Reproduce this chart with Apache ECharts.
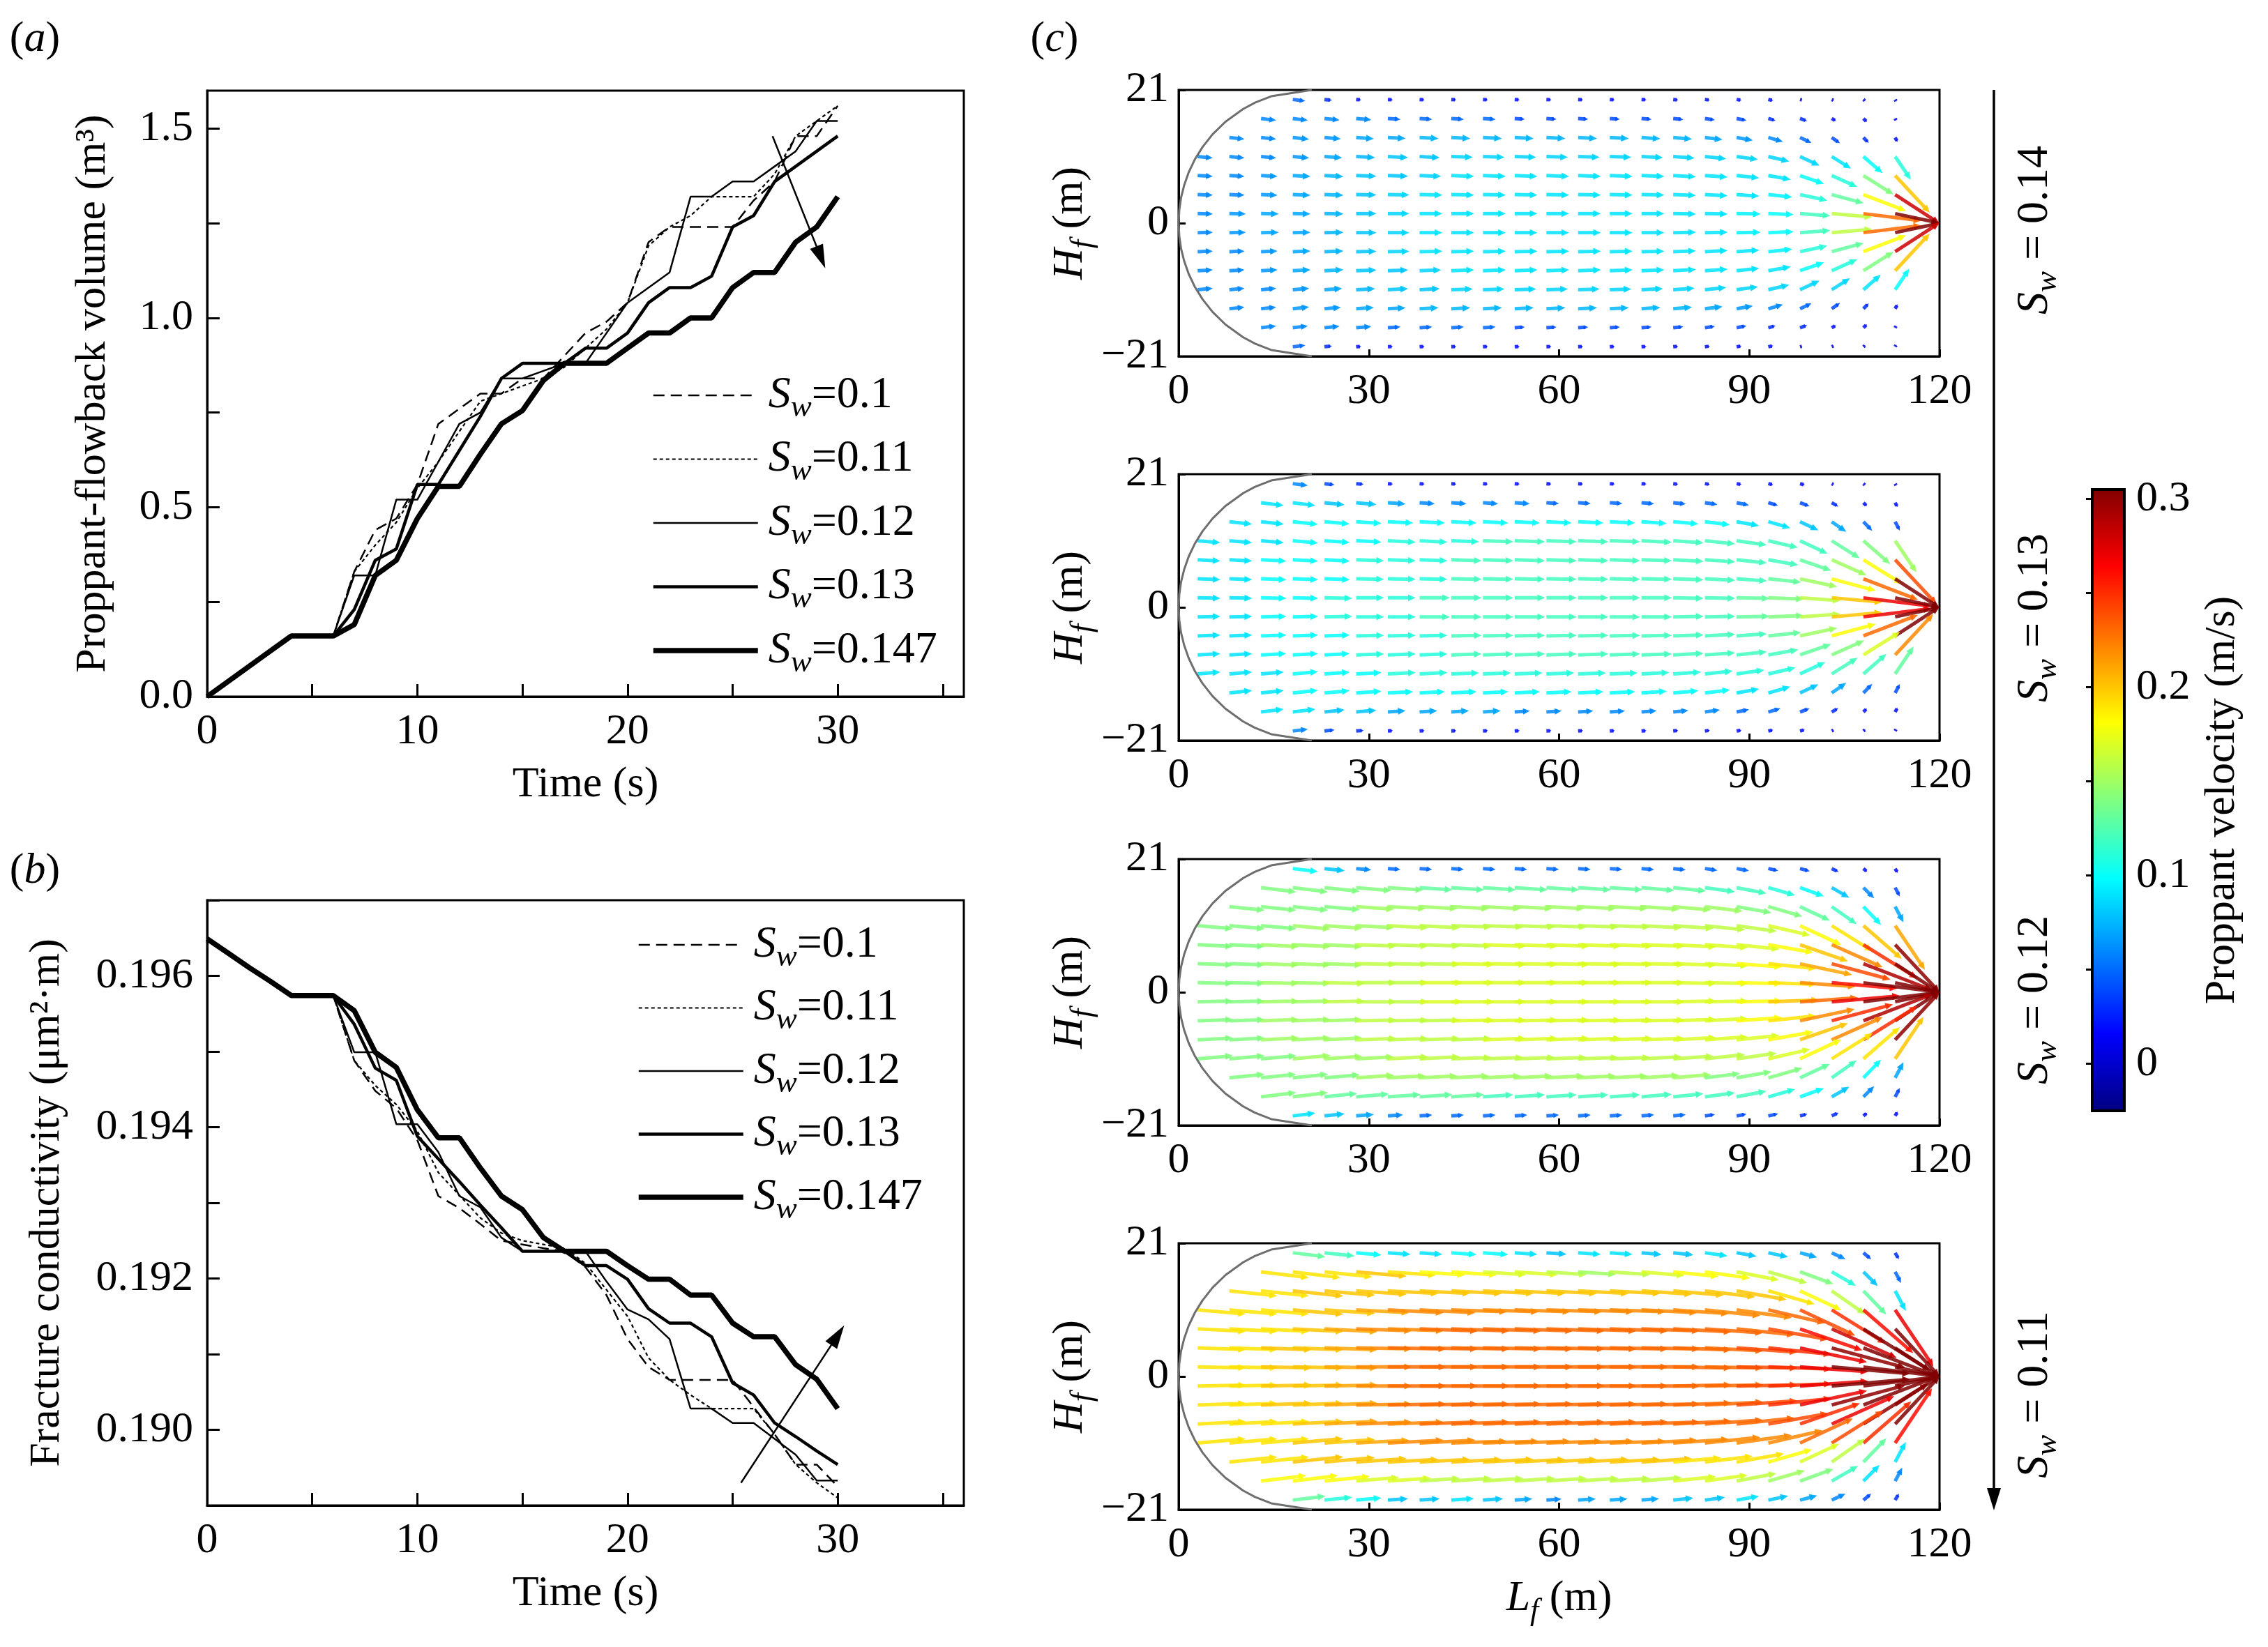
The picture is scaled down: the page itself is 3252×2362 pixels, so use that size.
<!DOCTYPE html>
<html>
<head>
<meta charset="utf-8">
<script src="https://cdn.jsdelivr.net/npm/echarts@6/dist/echarts.min.js"></script>
<style>
html, body { margin: 0; padding: 0; background: #fff; }
#main { width: 3252px; height: 2362px; }
</style>
</head>
<body>
<div id="main"></div>
<script>
// ---- data ----
var timeS = [0,1,2,3,4,5,6,7,8,9,10,11,12,13,14,15,16,17,18,19,20,21,22,23,24,25,26,27,28,29,30];
var swLegend = ['0.1', '0.11', '0.12', '0.13', '0.147'];

// (a) proppant-flowback volume, m3
var volSw010  = [0,0.04,0.08,0.12,0.16,0.16,0.16,0.33,0.44,0.47,0.56,0.72,0.76,0.80,0.80,0.84,0.84,0.90,0.96,0.99,1.04,1.20,1.24,1.24,1.24,1.24,1.31,1.36,1.48,1.48,1.56];
var volSw011  = [0,0.04,0.08,0.12,0.16,0.16,0.16,0.33,0.40,0.46,0.55,0.62,0.70,0.78,0.80,0.82,0.84,0.87,0.92,0.97,1.04,1.19,1.24,1.27,1.32,1.32,1.32,1.38,1.48,1.52,1.56];
var volSw012  = [0,0.04,0.08,0.12,0.16,0.16,0.16,0.32,0.32,0.52,0.52,0.62,0.72,0.75,0.84,0.84,0.86,0.88,0.88,0.96,1.04,1.08,1.12,1.32,1.32,1.36,1.36,1.40,1.44,1.52,1.52];
var volSw013  = [0,0.04,0.08,0.12,0.16,0.16,0.16,0.23,0.36,0.39,0.56,0.56,0.65,0.74,0.84,0.88,0.88,0.88,0.92,0.92,0.96,1.04,1.08,1.08,1.11,1.24,1.27,1.36,1.40,1.44,1.48];
var volSw0147 = [0,0.04,0.08,0.12,0.16,0.16,0.16,0.19,0.32,0.36,0.47,0.555,0.555,0.64,0.72,0.755,0.835,0.88,0.88,0.88,0.92,0.96,0.96,1.00,1.00,1.08,1.12,1.12,1.20,1.24,1.32];

// (b) fracture conductivity, um2*m
var condSw010  = [0.19649,0.19630,0.19611,0.19593,0.19574,0.19574,0.19574,0.19488,0.19448,0.19425,0.19383,0.19309,0.19293,0.19272,0.19250,0.19245,0.19240,0.19236,0.19215,0.19178,0.19120,0.19083,0.19066,0.19066,0.19066,0.19066,0.19030,0.18994,0.18954,0.18954,0.18925];
var condSw011  = [0.19649,0.19630,0.19611,0.19593,0.19574,0.19574,0.19574,0.19488,0.19455,0.19430,0.19395,0.19340,0.19310,0.19280,0.19260,0.19250,0.19245,0.19240,0.19220,0.19185,0.19150,0.19095,0.19066,0.19046,0.19028,0.19028,0.19028,0.18994,0.18954,0.18930,0.18910];
var condSw012  = [0.19649,0.19630,0.19611,0.19593,0.19574,0.19574,0.19574,0.19499,0.19499,0.19404,0.19404,0.19367,0.19309,0.19294,0.19254,0.19236,0.19236,0.19236,0.19236,0.19196,0.19159,0.19146,0.19120,0.19028,0.19028,0.19009,0.19009,0.18988,0.18967,0.18933,0.18933];
var condSw013  = [0.19649,0.19630,0.19611,0.19593,0.19574,0.19574,0.19574,0.19536,0.19478,0.19462,0.19388,0.19358,0.19328,0.19297,0.19267,0.19236,0.19236,0.19236,0.19217,0.19217,0.19199,0.19160,0.19141,0.19141,0.19123,0.19062,0.19046,0.19009,0.18991,0.18972,0.18954];
var condSw0147 = [0.19649,0.19630,0.19611,0.19593,0.19574,0.19574,0.19574,0.19554,0.19499,0.19479,0.19423,0.19386,0.19386,0.19346,0.19309,0.19291,0.19254,0.19236,0.19236,0.19236,0.19217,0.19199,0.19199,0.19178,0.19178,0.19141,0.19123,0.19123,0.19086,0.19067,0.19028];

// trend arrows (data coords)
var trendArrowA = [[26.9, 1.48], [29.2, 1.16]];
var trendArrowB = [[25.4, 0.18930], [30.0, 0.19125]];

// ticks and labels
var timeTicks = [0,5,10,15,20,25,30,35];
var timeLabels = [0,10,20,30];
var volTicks = [0,0.25,0.5,0.75,1,1.25,1.5];
var volLabels = [0,0.5,1,1.5];
var condTicks = [0.189,0.19,0.191,0.192,0.193,0.194,0.195,0.196,0.197];
var condLabels = [0.19,0.192,0.194,0.196];
var lenLabels = [0,30,60,90,120];
var hgtLabels = [-21,0,21];
var velTicks = [0,0.05,0.1,0.15,0.2,0.25,0.3];
var velLabels = [0,0.1,0.2,0.3];
var velMin = -0.025, velMax = 0.305;

// (c) proppant velocity field
var panelSw = ['0.14', '0.13', '0.12', '0.11'];
var edgeX = [21,14.6,12.06,10.18,7.4,5.35,3.77,2.53,1.58,0.88,0.38,0.1,0,0.1,0.38,0.88,1.58,2.53,3.77,5.35,7.4,10.18,12.06,14.6,21];
var edgeY = [21,20,19,18,16,14,12,10,8,6,4,2,0,-2,-4,-6,-8,-10,-12,-14,-16,-18,-19,-20,-21];
var gridX = [3,8,13,18,23,28,33,38,43,48,53,58,63,68,73,78,83,88,93,98,103,108,113];
var gridY = [19.5,16.5,13.5,10.5,7.5,4.5,1.5,-1.5,-4.5,-7.5,-10.5,-13.5,-16.5,-19.5];
// flow direction in degrees (same for the four cases), rows top to bottom
var flowAngle = [
  [null,null,null,-7,-6,-5,-4,-4,-4,-4,-4,-4,-4,-4,-5,-6,-8,-10,-12,-15,-25,-40,-60],
  [null,null,-7,-7,-6,-5,-4,-4,-4,-4,-4,-4,-4,-4,-5,-6,-8,-11,-16,-20,-30,-45,-62],
  [null,-6,-6,-6,-5,-4,-3,-3,-3,-3,-3,-3,-3,-3,-4,-5,-7,-10,-16,-25,-35,-46,-62],
  [-5,-5,-5,-5,-4,-3,-3,-3,-2,-2,-2,-2,-2,-2,-3,-4,-6,-8,-13,-25,-32,-41,-56],
  [-3,-3,-3,-3,-3,-2,-2,-2,-2,-2,-2,-2,-2,-2,-2,-3,-4,-6,-10,-19,-24,-32,-47],
  [-2,-2,-2,-2,-2,-1,-1,-1,-1,-1,-1,-1,-1,-1,-1,-2,-3,-4,-6,-12,-15,-21,-33],
  [-1,-1,-1,-1,-1,0,0,0,0,0,0,0,0,0,0,-1,-1,-1,-2,-4,-5,-7,-12],
  [1,1,1,1,1,0,0,0,0,0,0,0,0,0,0,1,1,1,2,4,5,7,12],
  [2,2,2,2,2,1,1,1,1,1,1,1,1,1,1,2,3,4,6,12,15,21,33],
  [3,3,3,3,3,2,2,2,2,2,2,2,2,2,2,3,4,6,10,19,24,32,47],
  [5,5,5,5,4,3,3,3,2,2,2,2,2,2,3,4,6,8,13,25,32,41,56],
  [null,6,6,6,5,4,3,3,3,3,3,3,3,3,4,5,7,10,16,25,35,46,62],
  [null,null,7,7,6,5,4,4,4,4,4,4,4,4,5,6,8,11,16,20,30,45,62],
  [null,null,null,7,6,5,4,4,4,4,4,4,4,4,5,6,8,10,12,15,25,40,60]
];
// speed in m/s, rows top to bottom
var speedSw014 = [
  [null,null,null,0.05,0.03,0.02,0.02,0.02,0.02,0.02,0.02,0.02,0.02,0.02,0.02,0.02,0.02,0.02,0.02,0.01,0.01,0.01,0.01],
  [null,null,0.06,0.06,0.06,0.06,0.05,0.05,0.05,0.05,0.04,0.04,0.04,0.04,0.04,0.04,0.04,0.04,0.03,0.03,0.02,0.02,0.01],
  [null,0.06,0.06,0.065,0.065,0.07,0.07,0.075,0.075,0.075,0.075,0.075,0.075,0.075,0.075,0.075,0.07,0.065,0.06,0.05,0.04,0.03,0.02],
  [0.06,0.06,0.06,0.065,0.07,0.075,0.08,0.08,0.085,0.085,0.085,0.085,0.085,0.085,0.085,0.085,0.085,0.085,0.085,0.085,0.09,0.10,0.11],
  [0.06,0.06,0.065,0.07,0.075,0.08,0.08,0.085,0.09,0.09,0.09,0.09,0.09,0.09,0.09,0.09,0.09,0.09,0.09,0.10,0.11,0.14,0.20],
  [0.06,0.06,0.065,0.07,0.075,0.08,0.085,0.09,0.09,0.09,0.09,0.09,0.09,0.09,0.09,0.09,0.09,0.09,0.095,0.11,0.13,0.18,0.28],
  [0.06,0.065,0.07,0.07,0.075,0.08,0.085,0.09,0.09,0.09,0.09,0.09,0.09,0.09,0.09,0.09,0.09,0.095,0.10,0.12,0.16,0.23,0.40],
  [0.06,0.065,0.07,0.07,0.075,0.08,0.085,0.09,0.09,0.09,0.09,0.09,0.09,0.09,0.09,0.09,0.09,0.095,0.10,0.12,0.16,0.23,0.40],
  [0.06,0.06,0.065,0.07,0.075,0.08,0.085,0.09,0.09,0.09,0.09,0.09,0.09,0.09,0.09,0.09,0.09,0.09,0.095,0.11,0.13,0.18,0.28],
  [0.06,0.06,0.065,0.07,0.075,0.08,0.08,0.085,0.09,0.09,0.09,0.09,0.09,0.09,0.09,0.09,0.09,0.09,0.09,0.10,0.11,0.14,0.20],
  [0.06,0.06,0.06,0.065,0.07,0.075,0.08,0.08,0.085,0.085,0.085,0.085,0.085,0.085,0.085,0.085,0.085,0.085,0.085,0.085,0.085,0.09,0.10],
  [null,0.06,0.06,0.065,0.065,0.07,0.07,0.075,0.075,0.075,0.075,0.075,0.075,0.075,0.075,0.075,0.07,0.065,0.06,0.05,0.04,0.03,0.02],
  [null,null,0.06,0.06,0.06,0.06,0.05,0.05,0.05,0.05,0.04,0.04,0.04,0.04,0.04,0.04,0.04,0.04,0.03,0.03,0.02,0.02,0.01],
  [null,null,null,0.05,0.03,0.02,0.02,0.02,0.02,0.02,0.02,0.02,0.02,0.02,0.02,0.02,0.02,0.02,0.02,0.01,0.01,0.01,0.01]
];
var speedSw013 = [
  [null,null,null,0.06,0.04,0.03,0.02,0.02,0.02,0.02,0.02,0.02,0.02,0.02,0.02,0.02,0.02,0.02,0.02,0.02,0.01,0.01,0.01],
  [null,null,0.09,0.09,0.08,0.08,0.07,0.06,0.06,0.06,0.06,0.05,0.05,0.05,0.05,0.05,0.05,0.05,0.04,0.04,0.03,0.02,0.02],
  [null,0.09,0.09,0.10,0.10,0.10,0.10,0.10,0.10,0.10,0.10,0.10,0.10,0.10,0.10,0.10,0.10,0.09,0.09,0.08,0.07,0.05,0.04],
  [0.09,0.09,0.09,0.10,0.10,0.10,0.11,0.11,0.11,0.12,0.12,0.12,0.12,0.12,0.12,0.12,0.12,0.12,0.12,0.12,0.13,0.14,0.15],
  [0.09,0.09,0.10,0.10,0.10,0.11,0.11,0.11,0.12,0.12,0.12,0.12,0.12,0.12,0.12,0.12,0.12,0.12,0.12,0.13,0.15,0.18,0.24],
  [0.09,0.09,0.10,0.10,0.10,0.11,0.11,0.11,0.12,0.12,0.12,0.12,0.12,0.12,0.12,0.12,0.12,0.12,0.13,0.15,0.18,0.23,0.32],
  [0.09,0.09,0.10,0.10,0.11,0.11,0.11,0.12,0.12,0.12,0.12,0.12,0.12,0.12,0.12,0.12,0.12,0.13,0.14,0.16,0.20,0.27,0.45],
  [0.09,0.09,0.10,0.10,0.11,0.11,0.11,0.12,0.12,0.12,0.12,0.12,0.12,0.12,0.12,0.12,0.12,0.13,0.14,0.16,0.20,0.27,0.45],
  [0.09,0.09,0.10,0.10,0.10,0.11,0.11,0.11,0.12,0.12,0.12,0.12,0.12,0.12,0.12,0.12,0.12,0.12,0.13,0.15,0.18,0.23,0.32],
  [0.09,0.09,0.10,0.10,0.10,0.11,0.11,0.11,0.12,0.12,0.12,0.12,0.12,0.12,0.12,0.12,0.12,0.12,0.12,0.13,0.14,0.17,0.22],
  [0.09,0.09,0.09,0.10,0.10,0.10,0.11,0.11,0.11,0.11,0.11,0.11,0.11,0.11,0.11,0.11,0.11,0.11,0.11,0.11,0.12,0.12,0.13],
  [null,0.09,0.09,0.10,0.10,0.10,0.10,0.10,0.10,0.10,0.10,0.10,0.10,0.10,0.10,0.10,0.10,0.09,0.09,0.08,0.07,0.05,0.04],
  [null,null,0.09,0.09,0.08,0.08,0.07,0.07,0.07,0.07,0.06,0.06,0.06,0.06,0.06,0.06,0.06,0.05,0.05,0.04,0.03,0.02,0.02],
  [null,null,null,0.06,0.04,0.03,0.02,0.02,0.02,0.02,0.02,0.02,0.02,0.02,0.02,0.02,0.02,0.02,0.02,0.02,0.01,0.01,0.01]
];
var speedSw012 = [
  [null,null,null,0.10,0.08,0.06,0.05,0.05,0.05,0.05,0.05,0.05,0.05,0.05,0.05,0.05,0.05,0.05,0.04,0.04,0.03,0.02,0.02],
  [null,null,0.14,0.14,0.14,0.14,0.14,0.13,0.13,0.13,0.13,0.13,0.13,0.13,0.13,0.13,0.12,0.12,0.11,0.10,0.08,0.06,0.04],
  [null,0.14,0.14,0.14,0.14,0.15,0.15,0.15,0.15,0.15,0.15,0.15,0.15,0.15,0.15,0.15,0.15,0.14,0.14,0.13,0.12,0.10,0.07],
  [0.14,0.14,0.14,0.15,0.15,0.15,0.16,0.16,0.16,0.16,0.16,0.16,0.16,0.16,0.16,0.16,0.16,0.16,0.17,0.18,0.19,0.20,0.21],
  [0.14,0.14,0.15,0.15,0.15,0.16,0.16,0.16,0.16,0.17,0.17,0.17,0.17,0.17,0.17,0.17,0.17,0.17,0.18,0.20,0.22,0.25,0.30],
  [0.14,0.14,0.15,0.15,0.15,0.16,0.16,0.16,0.17,0.17,0.17,0.17,0.17,0.17,0.17,0.17,0.17,0.18,0.19,0.21,0.24,0.29,0.38],
  [0.14,0.14,0.15,0.15,0.16,0.16,0.16,0.17,0.17,0.17,0.17,0.17,0.17,0.17,0.17,0.17,0.17,0.18,0.19,0.22,0.26,0.33,0.48],
  [0.14,0.14,0.15,0.15,0.16,0.16,0.16,0.17,0.17,0.17,0.17,0.17,0.17,0.17,0.17,0.17,0.17,0.18,0.20,0.23,0.27,0.33,0.48],
  [0.14,0.14,0.15,0.15,0.15,0.16,0.16,0.16,0.17,0.17,0.17,0.17,0.17,0.17,0.17,0.17,0.17,0.18,0.19,0.22,0.25,0.29,0.38],
  [0.14,0.14,0.15,0.15,0.15,0.16,0.16,0.16,0.16,0.17,0.17,0.17,0.17,0.17,0.17,0.17,0.17,0.17,0.18,0.20,0.22,0.25,0.30],
  [0.14,0.14,0.14,0.15,0.15,0.15,0.16,0.16,0.16,0.16,0.16,0.16,0.16,0.16,0.16,0.16,0.16,0.16,0.17,0.18,0.19,0.19,0.20],
  [null,0.14,0.14,0.14,0.14,0.15,0.15,0.15,0.15,0.15,0.15,0.15,0.15,0.15,0.15,0.15,0.14,0.14,0.14,0.13,0.12,0.10,0.07],
  [null,null,0.14,0.14,0.13,0.13,0.13,0.13,0.13,0.12,0.12,0.12,0.12,0.12,0.12,0.12,0.12,0.12,0.11,0.10,0.08,0.06,0.04],
  [null,null,null,0.09,0.08,0.07,0.06,0.05,0.05,0.05,0.05,0.05,0.05,0.05,0.05,0.05,0.04,0.04,0.04,0.03,0.03,0.02,0.02]
];
var speedSw011 = [
  [null,null,null,0.13,0.12,0.10,0.09,0.09,0.10,0.10,0.09,0.08,0.09,0.09,0.08,0.08,0.09,0.08,0.08,0.07,0.06,0.04,0.03],
  [null,null,0.19,0.19,0.19,0.20,0.19,0.18,0.18,0.17,0.17,0.16,0.15,0.16,0.17,0.18,0.18,0.17,0.16,0.14,0.11,0.08,0.05],
  [null,0.19,0.19,0.20,0.20,0.20,0.20,0.20,0.20,0.20,0.20,0.20,0.20,0.20,0.20,0.20,0.20,0.20,0.19,0.18,0.16,0.13,0.09],
  [0.19,0.19,0.19,0.20,0.20,0.21,0.22,0.22,0.22,0.22,0.22,0.22,0.22,0.22,0.22,0.22,0.22,0.22,0.23,0.24,0.25,0.26,0.27],
  [0.19,0.19,0.19,0.20,0.21,0.22,0.22,0.23,0.23,0.23,0.23,0.23,0.23,0.23,0.23,0.23,0.23,0.23,0.24,0.26,0.28,0.31,0.35],
  [0.19,0.19,0.20,0.20,0.21,0.22,0.23,0.23,0.23,0.23,0.23,0.23,0.23,0.23,0.23,0.23,0.23,0.24,0.25,0.27,0.30,0.35,0.45],
  [0.19,0.19,0.20,0.20,0.21,0.22,0.23,0.23,0.23,0.23,0.23,0.23,0.23,0.23,0.23,0.23,0.23,0.24,0.25,0.27,0.31,0.38,0.55],
  [0.19,0.19,0.20,0.20,0.21,0.22,0.23,0.23,0.23,0.23,0.23,0.23,0.23,0.23,0.23,0.23,0.23,0.24,0.25,0.27,0.31,0.38,0.55],
  [0.19,0.19,0.20,0.20,0.21,0.22,0.23,0.23,0.23,0.23,0.23,0.23,0.23,0.23,0.23,0.23,0.23,0.24,0.25,0.27,0.30,0.35,0.45],
  [0.19,0.19,0.19,0.20,0.21,0.22,0.22,0.23,0.23,0.23,0.23,0.23,0.23,0.23,0.23,0.23,0.23,0.23,0.24,0.25,0.27,0.30,0.34],
  [0.19,0.19,0.19,0.20,0.20,0.21,0.22,0.22,0.22,0.22,0.22,0.22,0.22,0.22,0.22,0.22,0.22,0.22,0.22,0.23,0.24,0.25,0.26],
  [null,0.19,0.19,0.20,0.20,0.20,0.20,0.20,0.20,0.20,0.20,0.20,0.20,0.20,0.20,0.19,0.19,0.19,0.18,0.17,0.16,0.13,0.09],
  [null,null,0.18,0.18,0.18,0.17,0.17,0.16,0.16,0.16,0.16,0.16,0.16,0.16,0.16,0.17,0.17,0.16,0.15,0.14,0.12,0.09,0.06],
  [null,null,null,0.13,0.11,0.10,0.08,0.08,0.09,0.08,0.07,0.06,0.07,0.07,0.07,0.08,0.08,0.09,0.08,0.07,0.06,0.04,0.03]
];
var speedTables = [speedSw014, speedSw013, speedSw012, speedSw011];

// jet colour map
var jetColors = ['#000080','#0000ff','#0080ff','#00ffff','#80ff80','#ffff00','#ff8000','#ff0000','#800000'];

// ---- drawing ----
var serif = 'Liberation Serif';
var arrowScale = 40;   // metres of arrow per m/s
var fieldEnd = 120;

var chart = echarts.init(document.getElementById('main'));

var richSw = {
  s: { fontFamily: serif, fontStyle: 'italic', fontSize: 64, color: '#000' },
  w: { fontFamily: serif, fontStyle: 'italic', fontSize: 45, color: '#000', padding: [36, 0, 0, 0] },
  v: { fontFamily: serif, fontSize: 64, color: '#000' }
};
var richLegend = {
  s: { fontFamily: serif, fontStyle: 'italic', fontSize: 64, color: '#000', padding: [0, 0, 0, 10] },
  w: { fontFamily: serif, fontStyle: 'italic', fontSize: 45, color: '#000', padding: [36, 0, 0, 0] },
  v: { fontFamily: serif, fontSize: 64, color: '#000' }
};
var richH = {
  h: { fontFamily: serif, fontStyle: 'italic', fontSize: 62, color: '#000' },
  f: { fontFamily: serif, fontStyle: 'italic', fontSize: 44, color: '#000', padding: [36, 0, 0, 0] },
  v: { fontFamily: serif, fontSize: 62, color: '#000' }
};

function pairs(xs, ys) {
  var out = [];
  for (var i = 0; i < xs.length; i++) out.push([xs[i], ys[i]]);
  return out;
}

function frameGrid(l, t, w, h) {
  return { left: l, top: t, width: w, height: h, show: true, borderColor: '#000', borderWidth: 3, backgroundColor: 'transparent' };
}

function timeAxis(gi, gap) {
  return {
    type: 'value', gridIndex: gi, min: 0, max: 36,
    name: 'Time (s)', nameLocation: 'middle', nameGap: gap,
    nameTextStyle: { fontFamily: serif, fontSize: 62, color: '#000' },
    axisLine: { onZero: false, lineStyle: { color: '#000', width: 3 } },
    axisTick: { inside: true, length: 18, customValues: timeTicks, lineStyle: { color: '#000', width: 3 } },
    axisLabel: { customValues: timeLabels, margin: 20, fontFamily: serif, fontSize: 62, color: '#000' },
    splitLine: { show: false }
  };
}

function lenAxis(gi, withName) {
  return {
    type: 'value', gridIndex: gi, min: 0, max: 120,
    name: withName ? '{h|L}{f|f}{v| (m)}' : '', nameLocation: 'middle', nameGap: 88,
    nameTextStyle: { rich: richH },
    axisLine: { onZero: false, lineStyle: { color: '#000', width: 3 } },
    axisTick: { inside: true, length: 10, customValues: lenLabels, lineStyle: { color: '#000', width: 3 } },
    axisLabel: { customValues: lenLabels, margin: 20, fontFamily: serif, fontSize: 62, color: '#000' },
    splitLine: { show: false }
  };
}

function hgtAxis(gi) {
  return {
    type: 'value', gridIndex: gi, min: -21, max: 21,
    name: '{h|H}{f|f}{v| (m)}', nameLocation: 'middle', nameGap: 100, nameRotate: 90,
    nameTextStyle: { rich: richH },
    axisLine: { onZero: false, lineStyle: { color: '#000', width: 3 } },
    axisTick: { inside: true, length: 10, customValues: hgtLabels, lineStyle: { color: '#000', width: 3 } },
    axisLabel: {
      customValues: hgtLabels, margin: 14, fontFamily: serif, fontSize: 62, color: '#000',
      formatter: function (v) { return v < 0 ? '\u2212' + Math.abs(v) : String(v); }
    },
    splitLine: { show: false }
  };
}

var lineStyles = [
  { color: '#000', width: 2.5, type: [16, 9] },
  { color: '#000', width: 2.2, type: [5, 4] },
  { color: '#000', width: 2.5, type: 'solid' },
  { color: '#000', width: 4.5, type: 'solid' },
  { color: '#000', width: 7.5, type: 'solid' }
];
var volSeries = [volSw010, volSw011, volSw012, volSw013, volSw0147];
var condSeries = [condSw010, condSw011, condSw012, condSw013, condSw0147];

var series = [];
for (var i = 0; i < 5; i++) {
  var s = {
    type: 'line', name: 'a|' + swLegend[i], xAxisIndex: 0, yAxisIndex: 0,
    data: pairs(timeS, volSeries[i]), showSymbol: false, symbol: 'none',
    lineStyle: lineStyles[i], itemStyle: { color: '#000' }, z: 3 + i
  };
  if (i === 0) {
    s.markLine = {
      silent: true, symbol: ['none', 'triangle'], symbolSize: [20, 34],
      lineStyle: { color: '#000', width: 2.5, type: 'solid' }, label: { show: false },
      data: [[{ coord: trendArrowA[0] }, { coord: trendArrowA[1] }]]
    };
  }
  series.push(s);
}
for (var i = 0; i < 5; i++) {
  var s = {
    type: 'line', name: 'b|' + swLegend[i], xAxisIndex: 1, yAxisIndex: 1,
    data: pairs(timeS, condSeries[i]), showSymbol: false, symbol: 'none',
    lineStyle: lineStyles[i], itemStyle: { color: '#000' }, z: 3 + i
  };
  if (i === 0) {
    s.markLine = {
      silent: true, symbol: ['none', 'triangle'], symbolSize: [20, 34],
      lineStyle: { color: '#000', width: 2.5, type: 'solid' }, label: { show: false },
      data: [[{ coord: trendArrowB[0] }, { coord: trendArrowB[1] }]]
    };
  }
  series.push(s);
}

// fracture tip boundary
for (var p = 0; p < 4; p++) {
  series.push({
    type: 'line', xAxisIndex: 2 + p, yAxisIndex: 2 + p, data: pairs(edgeX, edgeY),
    showSymbol: false, symbol: 'none', silent: true,
    lineStyle: { color: '#6e6e6e', width: 3 }, z: 4
  });
}

function drawArrow(params, api) {
  var x = api.value(0), y = api.value(1), sp = api.value(2), ang = api.value(3) * Math.PI / 180;
  var len = sp * arrowScale;
  var dx = len * Math.cos(ang), dy = len * Math.sin(ang);
  if (x + dx > fieldEnd) { var k = (fieldEnd - x) / dx; dx *= k; dy *= k; }
  var p0 = api.coord([x, y]), p1 = api.coord([x + dx, y + dy]);
  var vx = p1[0] - p0[0], vy = p1[1] - p0[1];
  var L = Math.sqrt(vx * vx + vy * vy) || 1;
  var ux = vx / L, uy = vy / L;
  var h = Math.min(11, L * 0.45), w = h * 0.45;
  var c = api.visual('color');
  return {
    type: 'group',
    children: [
      { type: 'line', shape: { x1: p0[0], y1: p0[1], x2: p1[0] - ux * h * 0.6, y2: p1[1] - uy * h * 0.6 },
        style: { stroke: c, lineWidth: 5, opacity: 0.85 } },
      { type: 'polygon', shape: { points: [[p1[0], p1[1]], [p1[0] - ux * h - uy * w, p1[1] - uy * h + ux * w], [p1[0] - ux * h + uy * w, p1[1] - uy * h - ux * w]] },
        style: { fill: c, opacity: 0.9 } }
    ]
  };
}

var arrowSeriesIdx = [];
for (var p = 0; p < 4; p++) {
  var tbl = speedTables[p], items = [];
  for (var r = 0; r < gridY.length; r++) {
    for (var c = 0; c < gridX.length; c++) {
      var sp = tbl[r][c];
      if (sp === null || flowAngle[r][c] === null) continue;
      items.push([gridX[c], gridY[r], sp, flowAngle[r][c], Math.min(sp, velMax)]);
    }
  }
  arrowSeriesIdx.push(series.length);
  series.push({
    type: 'custom', xAxisIndex: 2 + p, yAxisIndex: 2 + p, data: items,
    renderItem: drawArrow, clip: true, silent: true, z: 3,
    encode: { x: 0, y: 1 }
  });
}

// colour bar
series.push({
  type: 'custom', xAxisIndex: 6, yAxisIndex: 6, data: [[0, velMin, velMax]], silent: true, z: 5,
  renderItem: function (params, api) {
    var a = api.coord([0, api.value(1)]), b = api.coord([1, api.value(2)]);
    var stops = jetColors.map(function (col, k) { return { offset: k / (jetColors.length - 1), color: col }; });
    return {
      type: 'rect',
      shape: { x: a[0], y: b[1], width: b[0] - a[0], height: a[1] - b[1] },
      style: { fill: new echarts.graphic.LinearGradient(0, 1, 0, 0, stops), stroke: '#000', lineWidth: 4 }
    };
  }
});

function legendFmt(name) { return '{s|S}{w|w}{v|=' + name.split('|')[1] + '}'; }
function legendData(prefix) {
  return swLegend.map(function (v, k) {
    return { name: prefix + '|' + v, lineStyle: { color: '#000', width: lineStyles[k].width, type: lineStyles[k].type } };
  });
}

var option = {
  animation: false,
  backgroundColor: '#fff',
  grid: [
    frameGrid(297, 130, 1085, 869),
    frameGrid(297, 1291, 1085, 868),
    frameGrid(1690, 129, 1091, 382),
    frameGrid(1690, 680, 1091, 382),
    frameGrid(1690, 1232, 1091, 382),
    frameGrid(1690, 1783, 1091, 382),
    { left: 3000, top: 702, width: 46, height: 891, show: false }
  ],
  xAxis: [
    timeAxis(0, 96),
    timeAxis(1, 96),
    lenAxis(2, false), lenAxis(3, false), lenAxis(4, false), lenAxis(5, true),
    { type: 'value', gridIndex: 6, min: 0, max: 1, show: false }
  ],
  yAxis: [
    {
      type: 'value', gridIndex: 0, min: 0, max: 1.6,
      name: 'Proppant-flowback volume (m\u00b3)', nameLocation: 'middle', nameGap: 132, nameRotate: 90,
      nameTextStyle: { fontFamily: serif, fontSize: 62, color: '#000' },
      axisLine: { onZero: false, lineStyle: { color: '#000', width: 3 } },
      axisTick: { inside: true, length: 18, customValues: volTicks, lineStyle: { color: '#000', width: 3 } },
      axisLabel: { customValues: volLabels, margin: 20, fontFamily: serif, fontSize: 62, color: '#000',
        formatter: function (v) { return v.toFixed(1); } },
      splitLine: { show: false }
    },
    {
      type: 'value', gridIndex: 1, min: 0.189, max: 0.197,
      name: 'Fracture conductivity (\u03bcm\u00b2\u00b7m)', nameLocation: 'middle', nameGap: 198, nameRotate: 90,
      nameTextStyle: { fontFamily: serif, fontSize: 62, color: '#000' },
      axisLine: { onZero: false, lineStyle: { color: '#000', width: 3 } },
      axisTick: { inside: true, length: 18, customValues: condTicks, lineStyle: { color: '#000', width: 3 } },
      axisLabel: { customValues: condLabels, margin: 20, fontFamily: serif, fontSize: 62, color: '#000',
        formatter: function (v) { return v.toFixed(3); } },
      splitLine: { show: false }
    },
    hgtAxis(2), hgtAxis(3), hgtAxis(4), hgtAxis(5),
    {
      type: 'value', gridIndex: 6, min: velMin, max: velMax, position: 'right',
      name: 'Proppant velocity (m/s)', nameLocation: 'middle', nameGap: 110, nameRotate: 90,
      nameTextStyle: { fontFamily: serif, fontSize: 62, color: '#000' },
      axisLine: { show: false },
      axisTick: { inside: true, length: 9, customValues: velTicks, lineStyle: { color: '#000', width: 3 } },
      axisLabel: { customValues: velLabels, margin: 17, fontFamily: serif, fontSize: 62, color: '#000',
        formatter: function (v) { return v === 0 ? '0' : v.toFixed(1); } },
      splitLine: { show: false }
    }
  ],
  visualMap: {
    type: 'continuous', show: false, seriesIndex: arrowSeriesIdx, dimension: 4,
    min: velMin, max: velMax, inRange: { color: jetColors }
  },
  legend: [
    {
      data: legendData('a'),
      orient: 'vertical', left: 928, top: 530, itemWidth: 150, itemHeight: 24, itemGap: 19,
      itemStyle: { opacity: 0 }, selectedMode: false, formatter: legendFmt, textStyle: { rich: richLegend }
    },
    {
      data: legendData('b'),
      orient: 'vertical', left: 907, top: 1318, itemWidth: 150, itemHeight: 24, itemGap: 18,
      itemStyle: { opacity: 0 }, selectedMode: false, formatter: legendFmt, textStyle: { rich: richLegend }
    }
  ],
  graphic: [
    { type: 'text', x: 50, y: 57, style: { text: '({i|a})', fontFamily: serif, fontSize: 62, fill: '#000', align: 'center', verticalAlign: 'middle',
      rich: { i: { fontFamily: serif, fontStyle: 'italic', fontSize: 62 } } } },
    { type: 'text', x: 50, y: 1250, style: { text: '({i|b})', fontFamily: serif, fontSize: 62, fill: '#000', align: 'center', verticalAlign: 'middle',
      rich: { i: { fontFamily: serif, fontStyle: 'italic', fontSize: 62 } } } },
    { type: 'text', x: 1512, y: 57, style: { text: '({i|c})', fontFamily: serif, fontSize: 62, fill: '#000', align: 'center', verticalAlign: 'middle',
      rich: { i: { fontFamily: serif, fontStyle: 'italic', fontSize: 62 } } } },
    { type: 'line', shape: { x1: 2859, y1: 129, x2: 2859, y2: 2140 }, style: { stroke: '#000', lineWidth: 3.5 } },
    { type: 'polygon', shape: { points: [[2849, 2134], [2869, 2134], [2859, 2166]] }, style: { fill: '#000' } }
  ].concat(panelSw.map(function (sw, k) {
    var cy = [330, 886, 1434, 2000][k];
    return { type: 'text', x: 2918, y: cy, rotation: Math.PI / 2,
      style: { text: '{s|S}{w|w}{v| = ' + sw + '}', align: 'center', verticalAlign: 'middle', rich: richSw } };
  })),
  series: series
};

chart.setOption(option);
</script>
</body>
</html>
